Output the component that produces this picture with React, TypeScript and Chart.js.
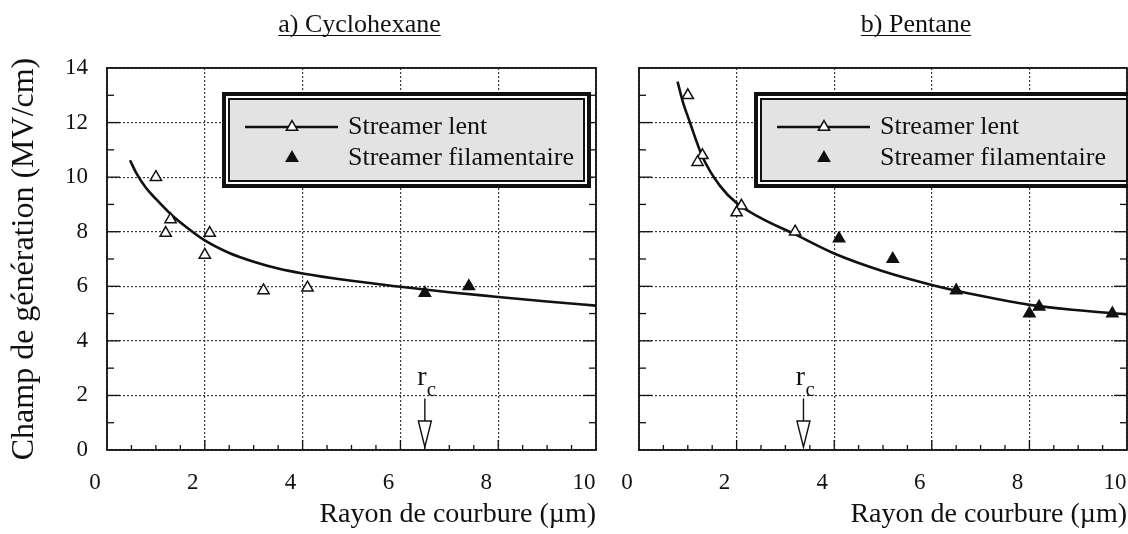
import React, { useEffect, useRef } from 'react';
import { Chart, registerables } from 'chart.js';

Chart.register(...registerables);

// ---------- data ----------
const xTicks = [0, 2, 4, 6, 8, 10];
const yTicks = [0, 2, 4, 6, 8, 10, 12, 14];

const legendLabels = ['Streamer lent', 'Streamer filamentaire'];
const yTitle = 'Champ de génération (MV/cm)';
const xTitle = 'Rayon de courbure (µm)';

// a) Cyclohexane
const cycloTitle = 'a) Cyclohexane';
const cycloFitX = [0.47, 0.6, 0.8, 1.0, 1.3, 1.6, 2.0, 2.5, 3.0, 3.5, 4.0, 5.0, 6.0, 7.0, 8.0, 9.0, 10.0];
const cycloFitY = [10.62, 10.15, 9.6, 9.2, 8.65, 8.2, 7.68, 7.22, 6.9, 6.65, 6.47, 6.2, 5.98, 5.78, 5.61, 5.44, 5.29];
const cycloLentX = [1.0, 1.3, 1.2, 2.1, 2.0, 3.2, 4.1];
const cycloLentY = [10.0, 8.45, 7.95, 7.95, 7.15, 5.85, 5.95];
const cycloFilX = [6.5, 7.4];
const cycloFilY = [5.75, 6.0];
const cycloRc = 6.5;

// b) Pentane
const pentTitle = 'b) Pentane';
const pentFitX = [0.79, 0.9, 1.035, 1.3, 1.66, 2.0, 2.5, 3.2, 4.0, 5.0, 6.0, 7.0, 8.0, 9.0, 10.0];
const pentFitY = [13.5, 12.75, 12.05, 10.75, 9.68, 9.05, 8.5, 7.9, 7.2, 6.55, 6.05, 5.65, 5.32, 5.12, 4.97];
const pentLentX = [1.0, 1.3, 1.2, 2.1, 2.0, 3.2];
const pentLentY = [13.0, 10.8, 10.55, 8.95, 8.7, 8.0];
const pentFilX = [4.1, 5.2, 6.5, 8.0, 8.2, 9.7];
const pentFilY = [7.75, 7.0, 5.85, 5.0, 5.25, 5.0];
const pentRc = 3.37;

// ---------- helpers ----------
const FONT = "'Liberation Serif', 'Times New Roman', serif";
const INK = '#111';

const zip = (xs: number[], ys: number[]) => xs.map((x, i) => ({ x, y: ys[i] }));

function tri(ctx: CanvasRenderingContext2D, x: number, y: number, r: number, filled: boolean) {
  const s = Math.sin(Math.PI / 3) * r;
  ctx.beginPath();
  ctx.moveTo(x, y - r);
  ctx.lineTo(x + s, y + r / 2);
  ctx.lineTo(x - s, y + r / 2);
  ctx.closePath();
  ctx.fillStyle = filled ? INK : '#fff';
  ctx.fill();
  ctx.lineWidth = 1.5;
  ctx.strokeStyle = INK;
  ctx.stroke();
}

interface PanelCfg {
  title: string;
  titleOffset: number;
  fitX: number[]; fitY: number[];
  lentX: number[]; lentY: number[];
  filX: number[]; filY: number[];
  rc: number;
  showY: boolean;
  yWidth: number;
  padRight: number;
  legendWidth: number;
}

function makeDecor(cfg: PanelCfg) {
  return {
    id: 'decor',
    afterDatasetsDraw(chart: any) {
      const { ctx, chartArea: ca, scales } = chart;
      const xs = scales.x, ys = scales.y;
      ctx.save();
      ctx.setLineDash([]);
      ctx.strokeStyle = INK;
      const line = (x1: number, y1: number, x2: number, y2: number) => {
        ctx.beginPath(); ctx.moveTo(x1, y1); ctx.lineTo(x2, y2); ctx.stroke();
      };
      // inward tick marks
      ctx.lineWidth = 1.3;
      for (let v = 0.5; v < 10; v += 0.5) {
        const px = xs.getPixelForValue(v);
        line(px, ca.bottom, px, ca.bottom - (xTicks.includes(v) ? 10 : 5));
      }
      for (let v = 1; v < 14; v += 1) {
        const py = ys.getPixelForValue(v);
        const len = yTicks.includes(v) ? 13 : 7;
        line(ca.left, py, ca.left + len, py);
        line(ca.right - len, py, ca.right, py);
      }
      // r_c arrow
      const ax = xs.getPixelForValue(cfg.rc);
      const y0 = ys.getPixelForValue(2) + 3;
      const tip = ys.getPixelForValue(0) - 3;
      const headTop = tip - 26;
      ctx.lineWidth = 1.4;
      line(ax, y0, ax, headTop);
      ctx.beginPath();
      ctx.moveTo(ax - 6.5, headTop);
      ctx.lineTo(ax + 6.5, headTop);
      ctx.lineTo(ax, tip);
      ctx.closePath();
      ctx.fillStyle = '#fff';
      ctx.fill();
      ctx.stroke();
      ctx.fillStyle = INK;
      ctx.font = `28px ${FONT}`;
      ctx.textAlign = 'center';
      ctx.textBaseline = 'alphabetic';
      ctx.fillText('r', ax - 3, ys.getPixelForValue(2) - 10);
      ctx.font = `21px ${FONT}`;
      ctx.textAlign = 'left';
      ctx.fillText('c', ax + 2, ys.getPixelForValue(2) + 1);

      // legend box
      const L = ca.left + 115, T = ca.top + 24, W = cfg.legendWidth, H = 96;
      ctx.fillStyle = '#fff';
      ctx.fillRect(L, T, W, H);
      ctx.lineWidth = 4;
      ctx.strokeStyle = INK;
      ctx.strokeRect(L + 2, T + 2, W - 4, H - 4);
      ctx.fillStyle = '#e3e3e3';
      ctx.fillRect(L + 7, T + 7, W - 14, H - 14);
      ctx.lineWidth = 2;
      ctx.strokeRect(L + 7, T + 7, W - 14, H - 14);
      const r1 = T + 35, r2 = T + 66;
      ctx.lineWidth = 2.6;
      line(L + 23, r1, L + 116, r1);
      tri(ctx, L + 70, r1, 6.5, false);
      tri(ctx, L + 70, r2, 6.5, true);
      ctx.fillStyle = INK;
      ctx.font = `26px ${FONT}`;
      ctx.textAlign = 'left';
      ctx.textBaseline = 'middle';
      ctx.fillText(legendLabels[0], L + 126, r1);
      ctx.fillText(legendLabels[1], L + 126, r2);

      // frame
      ctx.lineWidth = 1.8;
      ctx.strokeStyle = INK;
      ctx.strokeRect(ca.left, ca.top, ca.right - ca.left, ca.bottom - ca.top);
      ctx.restore();
    },
    afterDraw(chart: any) {
      const { ctx, chartArea: ca } = chart;
      ctx.save();
      ctx.font = `26px ${FONT}`;
      ctx.fillStyle = INK;
      ctx.textAlign = 'center';
      ctx.textBaseline = 'alphabetic';
      const cx = (ca.left + ca.right) / 2 + cfg.titleOffset;
      ctx.fillText(cfg.title, cx, 32);
      const w = ctx.measureText(cfg.title).width;
      ctx.strokeStyle = INK;
      ctx.lineWidth = 1.2;
      ctx.beginPath();
      ctx.moveTo(cx - w / 2, 35.5);
      ctx.lineTo(cx + w / 2, 35.5);
      ctx.stroke();
      ctx.restore();
    },
  };
}

function Panel({ cfg, width, left }: { cfg: PanelCfg; width: number; left: number }) {
  const ref = useRef<HTMLCanvasElement>(null);
  useEffect(() => {
    if (!ref.current) return;
    const gridColor = '#3a3a3a';
    const chart = new Chart(ref.current, {
      type: 'scatter',
      data: {
        datasets: [
          {
            label: legendLabels[1],
            data: zip(cfg.filX, cfg.filY),
            pointStyle: 'triangle',
            pointRadius: 6.5,
            backgroundColor: INK,
            borderColor: INK,
            borderWidth: 1.5,
            order: 1,
          },
          {
            label: legendLabels[0],
            data: zip(cfg.lentX, cfg.lentY),
            pointStyle: 'triangle',
            pointRadius: 6.5,
            backgroundColor: '#fff',
            borderColor: INK,
            borderWidth: 1.5,
            order: 2,
          },
          {
            label: 'fit',
            data: zip(cfg.fitX, cfg.fitY),
            showLine: true,
            pointRadius: 0,
            borderColor: INK,
            borderWidth: 2.6,
            cubicInterpolationMode: 'monotone',
            order: 3,
          } as any,
        ],
      },
      options: {
        responsive: false,
        animation: false,
        devicePixelRatio: 1,
        layout: { autoPadding: false, padding: { left: 0, top: 68, right: cfg.padRight, bottom: 0 } },
        plugins: { legend: { display: false }, tooltip: { enabled: false } },
        scales: {
          x: {
            type: 'linear',
            min: 0,
            max: 10,
            afterBuildTicks: (s: any) => { s.ticks = xTicks.map((v) => ({ value: v })); },
            afterFit: (s: any) => { s.height = 84; s.paddingLeft = 0; s.paddingRight = 0; },
            grid: { color: gridColor, lineWidth: 1.2, drawTicks: false },
            border: { display: false, dash: [2, 2] },
            ticks: {
              autoSkip: false,
              maxRotation: 0,
              padding: 19,
              labelOffset: -12,
              color: INK,
              font: { family: FONT, size: 23 },
            },
            title: {
              display: true,
              text: xTitle,
              align: 'end',
              color: INK,
              font: { family: FONT, size: 28 },
              padding: { top: 0, bottom: 3 },
            },
          },
          y: {
            type: 'linear',
            min: 0,
            max: 14,
            afterBuildTicks: (s: any) => { s.ticks = yTicks.map((v) => ({ value: v })); },
            afterFit: (s: any) => { s.width = cfg.yWidth; s.paddingTop = 0; s.paddingBottom = 0; },
            grid: { color: gridColor, lineWidth: 1.2, drawTicks: false },
            border: { display: false, dash: [2, 2] },
            ticks: {
              display: cfg.showY,
              autoSkip: false,
              padding: 19,
              color: INK,
              font: { family: FONT, size: 23 },
            },
            title: {
              display: cfg.showY,
              text: yTitle,
              color: INK,
              font: { family: FONT, size: 32 },
              padding: { top: 5, bottom: 0 },
            },
          },
        },
      },
      plugins: [makeDecor(cfg)],
    } as any);
    return () => chart.destroy();
  }, [cfg]);
  return (
    <canvas
      ref={ref}
      width={width}
      height={534}
      style={{ position: 'absolute', left, top: 0, width, height: 534 }}
    />
  );
}

const leftCfg: PanelCfg = {
  title: cycloTitle, titleOffset: 8,
  fitX: cycloFitX, fitY: cycloFitY,
  lentX: cycloLentX, lentY: cycloLentY,
  filX: cycloFilX, filY: cycloFilY,
  rc: cycloRc, showY: true, yWidth: 107, padRight: 14, legendWidth: 369,
};
const rightCfg: PanelCfg = {
  title: pentTitle, titleOffset: 33,
  fitX: pentFitX, fitY: pentFitY,
  lentX: pentLentX, lentY: pentLentY,
  filX: pentFilX, filY: pentFilY,
  rc: pentRc, showY: false, yWidth: 29, padRight: 1, legendWidth: 380,
};

export default function App() {
  return (
    <div style={{ position: 'absolute', left: 0, top: 0, width: 1128, height: 534, background: '#fff', overflow: 'hidden' }}>
      <Panel cfg={leftCfg} width={610} left={0} />
      <Panel cfg={rightCfg} width={518} left={610} />
    </div>
  );
}
